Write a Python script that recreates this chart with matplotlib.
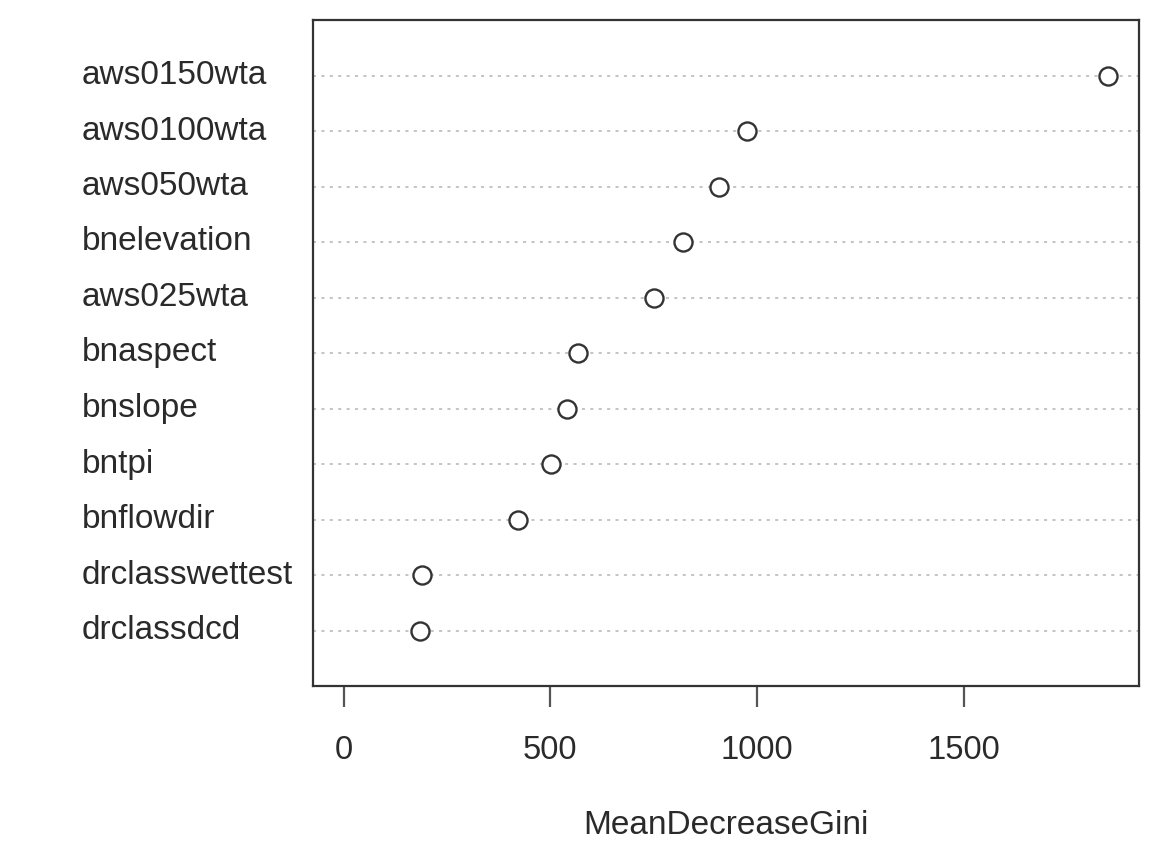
import matplotlib
matplotlib.use("Agg")
import matplotlib.pyplot as plt
from matplotlib.transforms import blended_transform_factory

variables = ["aws0150wta", "aws0100wta", "aws050wta", "bnelevation", "aws025wta",
             "bnaspect", "bnslope", "bntpi", "bnflowdir", "drclasswettest", "drclassdcd"]
gini = [1850, 975, 907, 822, 752, 568, 540, 502, 422, 190, 185]
xticks = [0, 500, 1000, 1500]
xlabel = "MeanDecreaseGini"

plt.rcParams['font.family'] = ['Liberation Sans', 'DejaVu Sans']
W, H = 1170, 844
fig = plt.figure(figsize=(W / 100, H / 100), dpi=100)
ax = fig.add_axes([313 / W, 1 - 686 / H, (1139 - 313) / W, (686 - 20) / H])

n = len(variables)
ypos = [n - i for i in range(n)]
for y in ypos:
    ax.axhline(y, color="#b4b4b4", lw=1.1, linestyle=(0, (2, 3.5)), zorder=1)
ax.plot(gini, ypos, linestyle="none", marker="o", markersize=13,
        markerfacecolor="white", markeredgecolor="#333333", markeredgewidth=1.7, zorder=3)

xmax = max(gini)
pad = 0.04 * xmax
ax.set_xlim(0 - pad, xmax + pad)
ax.set_ylim(0, n + 1)
ax.set_yticks([])
ax.set_xticks(xticks)
ax.set_xticklabels([str(t) for t in xticks], fontsize=23.5)
ax.tick_params(axis="x", length=15, width=1.6, color="#555555", pad=20, labelcolor="#2a2a2a")
for s in ax.spines.values():
    s.set_color("#333333")
    s.set_linewidth(1.6)

tr = blended_transform_factory(fig.transFigure, ax.transData)
for y, lab in zip(ypos, variables):
    ax.text(82 / W, y, lab, transform=tr, fontsize=24, ha="left", va="center",
            color="#2a2a2a", clip_on=False)

fig.text((313 + 1139) / 2 / W, 1 - 826 / H, xlabel, fontsize=24, ha="center",
         va="center", color="#2a2a2a")

fig.savefig("out.png", dpi=100)
